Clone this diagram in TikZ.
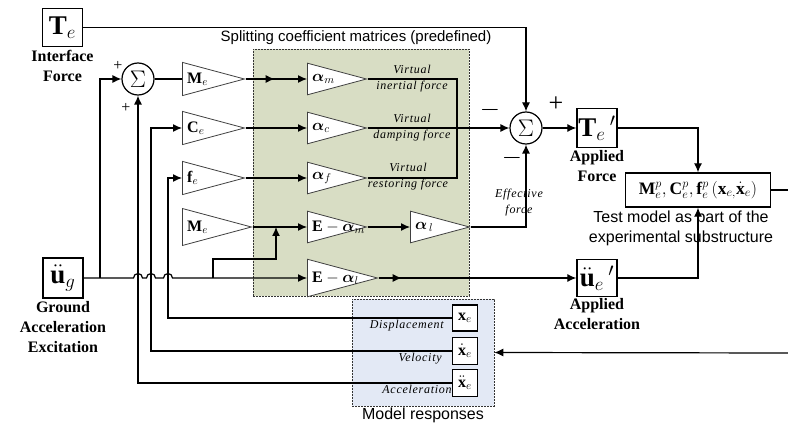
\documentclass[tikz,border=0pt]{standalone}
\usepackage{amsmath}
\usepackage{bm}
\usepackage{fix-cm}
\usepackage{fontspec}
\setmainfont{Liberation Serif}
\setsansfont{Liberation Sans}
\usetikzlibrary{arrows.meta,positioning,shapes.geometric,decorations.markings}

\definecolor{splitfill}{RGB}{216,221,196}
\definecolor{respfill}{RGB}{227,233,245}

\begin{document}
\begin{tikzpicture}[x=1pt,y=-1pt,
  blk/.style={draw,line width=1.3pt,fill=white,inner sep=0pt,minimum width=40pt,minimum height=38pt,font=\fontsize{27}{29}\selectfont},
  gtxt/.style={anchor=west,inner sep=0pt,xshift=5pt,font=\fontsize{16}{18}\selectfont},
  gain/.style={isosceles triangle,isosceles triangle apex angle=30,shape border rotate=0,draw=black!75,line width=0.8pt,fill=white,inner sep=0pt,minimum width=1pt,minimum height=62pt,anchor=west,label={[gtxt]180:{#1}}},
  sum/.style={circle,draw,line width=1.2pt,fill=white,minimum size=32pt,inner sep=0pt,font=\fontsize{24}{26}\selectfont},
  wire/.style={line width=1.2pt},
  sig/.style={wire,-{Latex[length=9pt,width=8pt]}},
  midtip/.style={postaction={decorate},decoration={markings,mark=at position #1 with {\arrow{Latex[length=9pt,width=8pt]}}}},
  tag/.style={font=\fontsize{16}{20}\selectfont\bfseries,align=center,inner sep=0pt},
  note/.style={font=\fontsize{15}{19}\selectfont\sffamily,align=center,inner sep=0pt},
  vlab/.style={font=\fontsize{12}{16}\selectfont\itshape\addfontfeature{LetterSpace=6},align=center,inner sep=0pt},
  sgn/.style={inner sep=0pt,font=\fontsize{16}{18}\selectfont}]
\useasboundingbox (0,0) rectangle (788,425);

% shaded groups
\node[draw=black!80,dash pattern=on 2pt off 1pt,line width=0.6pt,fill=splitfill,inner sep=0pt,
      minimum width=216pt,minimum height=247pt] (split) at (361,172.5) {};
\node[note,above=4pt of split,xshift=-5pt] {Splitting coefficient matrices (predefined)};
\node[draw=black!80,dash pattern=on 2pt off 1pt,line width=0.6pt,fill=respfill,inner sep=0pt,
      minimum width=142pt,minimum height=107pt] (resp) at (423,352.5) {};
\node[note,below=1pt of resp,font=\fontsize{16}{19}\selectfont\sffamily] {Model responses};

% inputs
\node[blk] (te) at (62.5,27.5) {$\mathbf{T}_e$};
\node[tag,below=3pt of te] {Interface\\Force};
\node[blk,minimum height=40pt] (ug) at (63,278) {$\ddot{\mathbf{u}}_g$};
\node[tag,below=3pt of ug] {Ground\\Acceleration\\Excitation};

% summing junctions
\node[sum] (s1) at (138,79) {$\Sigma$};
\node[sgn] at (118,66) {+};
\node[sgn] at (126,108) {+};
\node[sum] (s2) at (526,128) {$\Sigma$};
\node[sgn,font=\fontsize{26}{28}\selectfont] at (490,110) {$-$};
\node[sgn,font=\fontsize{26}{28}\selectfont] at (556,104) {+};
\node[sgn,font=\fontsize{26}{28}\selectfont] at (512,158) {$-$};

% gains
\node[gain={$\mathbf{M}_e$}] (me1) at (182,79) {};
\node[gain={$\mathbf{C}_e$}] (ce) at (182,128) {};
\node[gain={$\mathbf{f}_e$}] (fe) at (182,178) {};
\node[gain={$\mathbf{M}_e$},minimum height=69pt] (me2) at (182,227) {};
\node[gain={$\bm{\alpha}_m$},minimum height=59pt] (am) at (307,79) {};
\node[gain={$\bm{\alpha}_c$},minimum height=59pt] (ac) at (307,128) {};
\node[gain={$\bm{\alpha}_f$},minimum height=59pt] (af) at (307,178) {};
\node[gain={$\mathbf{E}-\bm{\alpha}_m$},minimum height=59pt] (eam) at (307,227) {};
\node[gain={$\bm{\alpha}_{\,l}$},minimum height=59pt] (al) at (410,227) {};
\node[gain={$\mathbf{E}-\bm{\alpha}_l$},minimum height=70pt] (eal) at (307,278) {};

% applied quantities and test model
\node[blk,minimum height=39pt] (tep) at (597,128) {$\mathbf{T}_e\,'$};
\node[tag,below=2pt of tep] {Applied\\Force};
\node[blk,minimum height=37pt] (uep) at (597,278) {$\ddot{\mathbf{u}}_e\,'$};
\node[tag,below=1pt of uep] {Applied\\Acceleration};
\node[blk,minimum width=145pt,minimum height=34pt,font=\fontsize{17.5}{19}\selectfont] (tm) at (698,190)
  {$\mathbf{M}_e^p,\mathbf{C}_e^p,\mathbf{f}_e^p\left(\mathbf{x}_{e,}\dot{\mathbf{x}}_e\right)$};
\node[note,below=3pt of tm,xshift=-17pt,font=\fontsize{16}{20}\selectfont\sffamily] {Test model as part of the\\experimental substructure};

% model responses
\node[blk,minimum width=25pt,minimum height=26pt,font=\fontsize{16}{18}\selectfont] (xe) at (465,318) {$\mathbf{x}_e$};
\node[blk,minimum width=25pt,minimum height=27pt,font=\fontsize{16}{18}\selectfont] (xd) at (465,351) {$\dot{\mathbf{x}}_e$};
\node[blk,minimum width=25pt,minimum height=27pt,font=\fontsize{16}{18}\selectfont] (xdd) at (465,383) {$\ddot{\mathbf{x}}_e$};
\node[vlab,anchor=north east] at ([xshift=-8pt,yshift=-2pt]xe.west) {Displacement};
\node[vlab,anchor=north east] at ([xshift=-10pt,yshift=-2pt]xd.west) {Velocity};
\node[vlab,anchor=north east] at ([xshift=0pt,yshift=-2pt]xdd.west) {Acceleration};

% force labels
\node[vlab] at (412,79) {Virtual\\inertial force};
\node[vlab] at (412,128) {Virtual\\damping force};
\node[vlab] at (408,177) {Virtual\\restoring force};
\node[vlab] at (519,203) {Effective\\force};

% connectors
\coordinate (j1) at (100,278);
\coordinate (j2) at (213,278);
\coordinate (j3) at (276,227);
\coordinate (vsum) at (457,128);
\coordinate (outR) at (788,190);
\coordinate (inR) at (788,353);

\draw[sig] (ug.east) -- (133.5,278) arc[start angle=180,end angle=0,radius=4.5pt]
  -- (146.5,278) arc[start angle=180,end angle=0,radius=4.5pt]
  -- (163.5,278) arc[start angle=180,end angle=0,radius=4.5pt] -- (eal.west);
\draw[sig] (j1) |- (s1.west);
\draw[sig] (j2) -- ++(0,-19) -| (j3);
\draw[wire] (s1.east) -- (me1.west);
\draw[sig,midtip=0.47] (me1.east) -- (am.west);
\draw[sig] (ce.east) -- (ac.west);
\draw[sig] (fe.east) -- (af.west);
\draw[sig] (me2.east) -- (eam.west);
\draw[sig] (eam.east) -- (al.west);
\draw[wire] (am.east) -| (vsum) |- (af.east);
\draw[sig] (ac.east) -- (s2.west);
\draw[sig] (al.east) -| (s2.south);
\draw[sig] (te.east) -| (s2.north);
\draw[sig] (s2.east) -- (tep.west);
\draw[sig] (tep.east) -| (tm.north);
\draw[sig,midtip=0.115] (eal.east) -- (uep.west);
\draw[sig] (uep.east) -| (tm.south);
\draw[wire] (tm.east) -- (outR);
\draw[sig] (inR) -- (resp.east);
\draw[sig] (xe.west) -| ([xshift=-14pt]fe.west) -- (fe.west);
\draw[sig] (xd.west) -| ([xshift=-31pt]ce.west) -- (ce.west);
\draw[sig] (xdd.west) -| (s1.south);
\end{tikzpicture}
\end{document}
